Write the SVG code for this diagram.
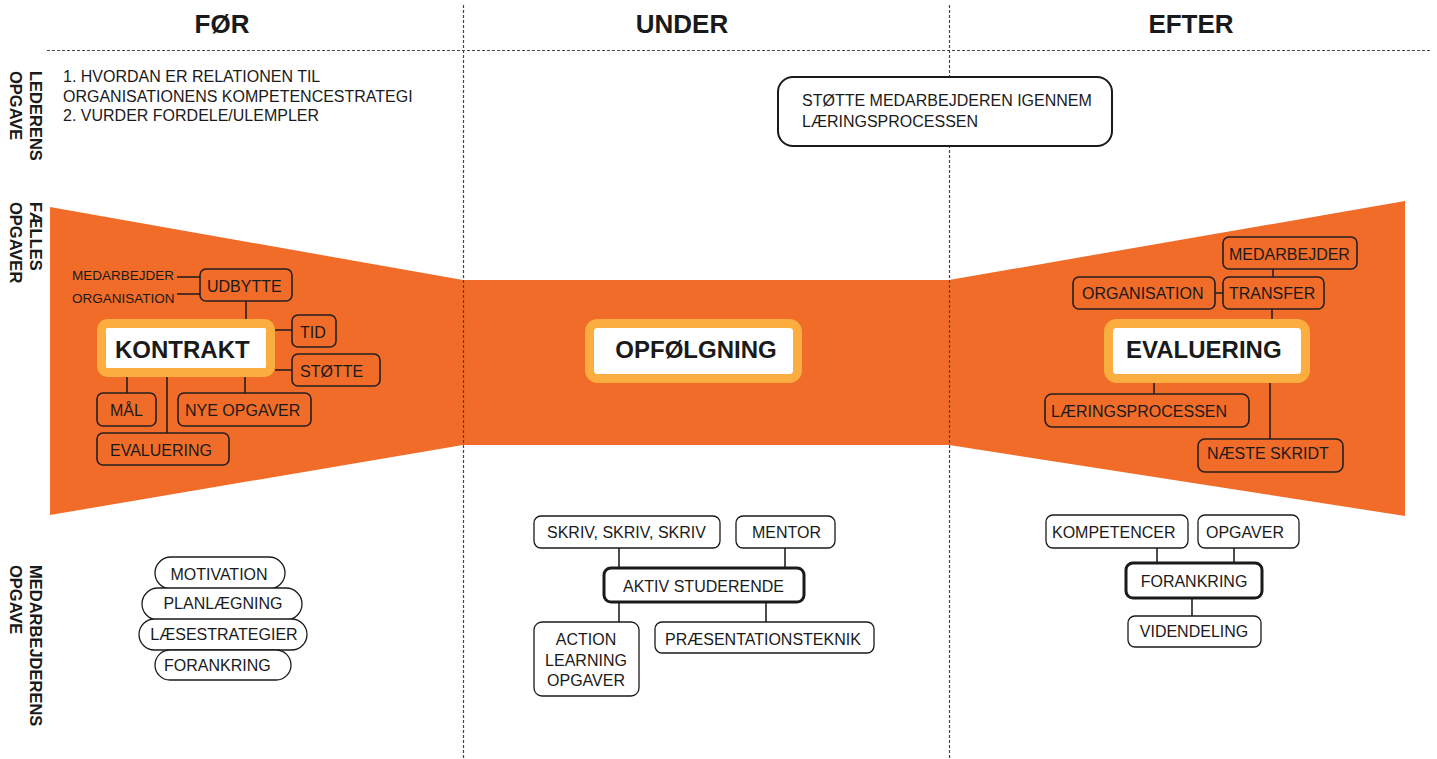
<svg xmlns="http://www.w3.org/2000/svg" width="1437" height="759" viewBox="0 0 1437 759">
<style>
text{font-family:"Liberation Sans",Arial,sans-serif;fill:#1a1a1a}
.h{font-size:26px;font-weight:bold;text-anchor:middle}
.side{font-size:16.5px;font-weight:bold}
.t{font-size:16px}
.s{font-size:13.5px}
.big{font-size:24px;font-weight:bold}
.dash{stroke:#444;stroke-width:1.2;stroke-dasharray:3 2;fill:none}
.ob{fill:none;stroke:#231f20;stroke-width:1.6}
.wb{fill:#fff;stroke:#1a1a1a;stroke-width:1.3}
.thick{fill:#fff;stroke:#1a1a1a;stroke-width:3}
.hl{fill:#fff;stroke:#fbad3f;stroke-width:9}
.c{stroke:#231f20;stroke-width:1.6;fill:none}
.mid{text-anchor:middle}
</style>

<g id="band">
<polygon points="50,207 463,280 949,280 1405,201 1405,516 949,445 463,445 50,515" fill="#f26c29"/>
</g>

<g id="grid">
<line class="dash" x1="463.5" y1="5" x2="463.5" y2="759"/>
<line class="dash" x1="949.5" y1="5" x2="949.5" y2="759"/>
<line class="dash" x1="47" y1="50.5" x2="1432" y2="50.5"/>
</g>

<g id="headers">
<text class="h" x="222" y="33">FØR</text>
<text class="h" x="682" y="33">UNDER</text>
<text class="h" x="1191" y="33">EFTER</text>
</g>

<g id="row-labels">
<text class="side" transform="translate(29.5,71) rotate(90)">LEDERENS</text>
<text class="side" transform="translate(9.5,71) rotate(90)">OPGAVE</text>
<text class="side" transform="translate(29.5,202) rotate(90)">FÆLLES</text>
<text class="side" transform="translate(9.5,202) rotate(90)">OPGAVER</text>
<text class="side" transform="translate(29.5,565) rotate(90)">MEDARBEJDERENS</text>
<text class="side" transform="translate(9.5,565) rotate(90)">OPGAVE</text>
</g>

<g id="leder-text">
<text class="t" x="63" y="82">1. HVORDAN ER RELATIONEN TIL</text>
<text class="t" x="63" y="101.5">ORGANISATIONENS KOMPETENCESTRATEGI</text>
<text class="t" x="63" y="121">2. VURDER FORDELE/ULEMPLER</text>
</g>

<g id="connectors">
<!-- KONTRAKT -->
<line class="c" x1="177" y1="277" x2="200" y2="277"/>
<line class="c" x1="177" y1="294" x2="200" y2="294"/>
<line class="c" x1="246" y1="301" x2="246" y2="319"/>
<line class="c" x1="275" y1="330" x2="292" y2="330"/>
<line class="c" x1="275" y1="370" x2="292" y2="370"/>
<line class="c" x1="127" y1="377" x2="127" y2="393"/>
<line class="c" x1="245" y1="377" x2="245" y2="393"/>
<line class="c" x1="167" y1="377" x2="167" y2="433"/>
<!-- EVALUERING -->
<line class="c" x1="1273" y1="269" x2="1273" y2="277"/>
<line class="c" x1="1215" y1="293" x2="1223" y2="293"/>
<line class="c" x1="1272" y1="309" x2="1272" y2="319"/>
<line class="c" x1="1154" y1="383" x2="1154" y2="394"/>
<line class="c" x1="1270" y1="383" x2="1270" y2="439"/>
<!-- AKTIV STUDERENDE -->
<line class="c" x1="619" y1="548" x2="619" y2="568"/>
<line class="c" x1="785" y1="548" x2="785" y2="568"/>
<line class="c" x1="619" y1="602" x2="619" y2="622"/>
<line class="c" x1="766" y1="602" x2="766" y2="622"/>
<!-- FORANKRING -->
<line class="c" x1="1157" y1="548" x2="1157" y2="563"/>
<line class="c" x1="1234" y1="548" x2="1234" y2="563"/>
<line class="c" x1="1192" y1="598" x2="1192" y2="616"/>
</g>

<g id="stoette-box">
<rect x="778" y="77" width="334" height="69" rx="15" fill="#fff" stroke="#1a1a1a" stroke-width="2"/>
<text class="t" x="802" y="106">STØTTE MEDARBEJDEREN IGENNEM</text>
<text class="t" x="802" y="127">LÆRINGSPROCESSEN</text>
</g>

<!-- KONTRAKT cluster -->
<g id="medarbejder-l"><text class="s" x="72" y="280">MEDARBEJDER</text></g>
<g id="organisation-l"><text class="s" x="72" y="303">ORGANISATION</text></g>
<g id="udbytte"><rect class="ob" x="200" y="269" width="92" height="32" rx="6"/><text class="t" x="207" y="292">UDBYTTE</text></g>
<g id="kontrakt"><rect class="hl" x="101.5" y="323.5" width="169" height="49" rx="6"/><text class="big" x="115" y="358">KONTRAKT</text></g>
<g id="tid"><rect class="ob" x="292" y="315" width="44" height="32" rx="6"/><text class="t" x="300" y="338">TID</text></g>
<g id="stoette"><rect class="ob" x="292" y="354" width="88" height="32" rx="6"/><text class="t" x="300" y="377">STØTTE</text></g>
<g id="maal"><rect class="ob" x="97" y="393" width="59" height="33" rx="6"/><text class="t" x="110" y="416">MÅL</text></g>
<g id="nye-opgaver"><rect class="ob" x="178" y="393" width="133" height="33" rx="6"/><text class="t" x="185" y="416">NYE OPGAVER</text></g>
<g id="evaluering-l"><rect class="ob" x="97" y="433" width="132" height="32" rx="6"/><text class="t" x="110" y="456">EVALUERING</text></g>

<!-- OPFØLGNING -->
<g id="opfoelgning"><rect class="hl" x="589.5" y="323.5" width="208" height="55" rx="8"/><text class="big mid" x="696" y="358">OPFØLGNING</text></g>

<!-- EVALUERING cluster -->
<g id="medarbejder-r"><rect class="ob" x="1223" y="237" width="134" height="32" rx="6"/><text class="t" x="1229" y="260">MEDARBEJDER</text></g>
<g id="organisation-r"><rect class="ob" x="1073" y="277" width="142" height="32" rx="6"/><text class="t" x="1082" y="299">ORGANISATION</text></g>
<g id="transfer"><rect class="ob" x="1223" y="277" width="101" height="32" rx="6"/><text class="t" x="1229" y="299">TRANSFER</text></g>
<g id="evaluering"><rect class="hl" x="1108.5" y="323.5" width="197" height="55" rx="8"/><text class="big" x="1126" y="358">EVALUERING</text></g>
<g id="laeringsprocessen"><rect class="ob" x="1045" y="394" width="204" height="33" rx="7"/><text class="t" x="1051" y="417">LÆRINGSPROCESSEN</text></g>
<g id="naeste-skridt"><rect class="ob" x="1198" y="439" width="145" height="33" rx="7"/><text class="t" x="1207" y="459">NÆSTE SKRIDT</text></g>

<!-- Medarbejder FØR pills -->
<g id="motivation"><rect class="wb" x="155" y="557" width="130" height="32" rx="16"/><text class="t mid" x="219" y="580">MOTIVATION</text></g>
<g id="planlaegning"><rect class="wb" x="142" y="588" width="160" height="32" rx="16"/><text class="t mid" x="223" y="609">PLANLÆGNING</text></g>
<g id="laesestrategier"><rect class="wb" x="139" y="619" width="168" height="31" rx="15.5"/><text class="t mid" x="224" y="640">LÆSESTRATEGIER</text></g>
<g id="forankring-l"><rect class="wb" x="155" y="650" width="136" height="30" rx="15"/><text class="t" x="164" y="671">FORANKRING</text></g>

<!-- UNDER bottom -->
<g id="skriv"><rect class="wb" x="534" y="516" width="186" height="32" rx="7"/><text class="t" x="547" y="538">SKRIV, SKRIV, SKRIV</text></g>
<g id="mentor"><rect class="wb" x="736" y="516" width="99" height="32" rx="7"/><text class="t" x="752" y="538">MENTOR</text></g>
<g id="aktiv"><rect class="thick" x="604" y="568" width="200" height="34" rx="7"/><text class="t" x="623" y="592">AKTIV STUDERENDE</text></g>
<g id="action"><rect class="wb" x="534" y="622" width="105" height="74" rx="8"/><text class="t mid" x="586" y="645">ACTION</text><text class="t mid" x="586" y="666">LEARNING</text><text class="t mid" x="586" y="686">OPGAVER</text></g>
<g id="praesentation"><rect class="wb" x="655" y="622" width="219" height="31" rx="7"/><text class="t" x="665" y="645">PRÆSENTATIONSTEKNIK</text></g>

<!-- EFTER bottom -->
<g id="kompetencer"><rect class="wb" x="1046" y="515" width="142" height="33" rx="7"/><text class="t" x="1052" y="538">KOMPETENCER</text></g>
<g id="opgaver"><rect class="wb" x="1198" y="515" width="101" height="33" rx="7"/><text class="t" x="1206" y="538">OPGAVER</text></g>
<g id="forankring-r"><rect class="thick" x="1126" y="563" width="136" height="35" rx="7"/><text class="t mid" x="1194" y="587">FORANKRING</text></g>
<g id="videndeling"><rect class="wb" x="1128" y="616" width="133" height="31" rx="7"/><text class="t mid" x="1194" y="637">VIDENDELING</text></g>
</svg>
